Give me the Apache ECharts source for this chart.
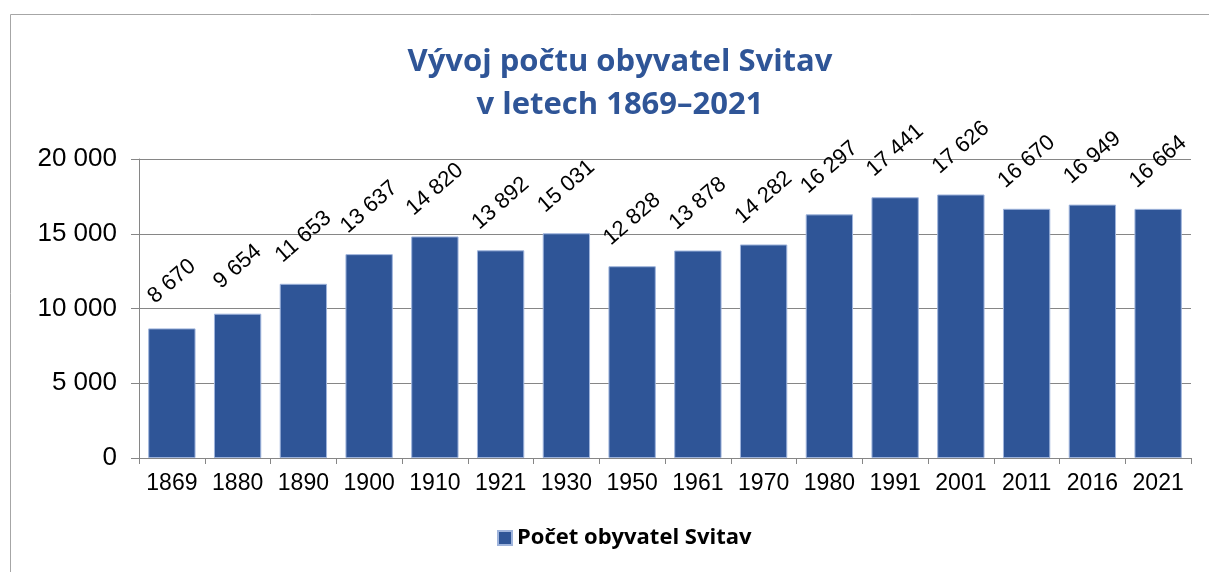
<!DOCTYPE html>
<html>
<head>
<meta charset="utf-8">
<script src="https://cdn.jsdelivr.net/npm/echarts@6/dist/echarts.min.js"></script>
<style>
  html, body { margin: 0; padding: 0; background: #fff; }
  #chart { width: 1209px; height: 572px; }
</style>
</head>
<body>
<div id="chart"></div>
<script>
// roky scitani
const years = ['1869', '1880', '1890', '1900', '1910', '1921', '1930', '1950',
  '1961', '1970', '1980', '1991', '2001', '2011', '2016', '2021'];
// pocet obyvatel
const population = [8670, 9654, 11653, 13637, 14820, 13892, 15031, 12828,
  13878, 14282, 16297, 17441, 17626, 16670, 16949, 16664];
const yTicks = [0, 5000, 10000, 15000, 20000];

const seriesName = 'Počet obyvatel Svitav';
const barColor = '#2f5597';

function fmt(v) {
  return String(v).replace(/\B(?=(\d{3})+(?!\d))/g, ' ');
}

const chart = echarts.init(document.getElementById('chart'), null, { renderer: 'canvas' });

chart.setOption({
  animation: false,
  backgroundColor: '#fff',
  graphic: [{
    type: 'rect',
    shape: { x: 10.5, y: 14.5, width: 1260, height: 640 },
    style: { fill: 'none', stroke: '#a6a6a6', lineWidth: 1 },
    silent: true
  }],
  title: {
    text: 'Vývoj počtu obyvatel Svitav\nv letech 1869–2021',
    left: 615,
    textAlign: 'center',
    top: 36,
    textStyle: {
      fontFamily: 'Open Sans',
      fontWeight: 'bold',
      fontSize: 31,
      lineHeight: 43,
      color: barColor
    }
  },
  legend: {
    data: [seriesName],
    bottom: 18,
    left: 492,
    itemWidth: 14,
    itemHeight: 14,
    itemGap: 8,
    icon: 'rect',
    textStyle: {
      fontFamily: 'Open Sans',
      fontWeight: 'bold',
      fontSize: 22,
      color: '#000'
    }
  },
  grid: {
    left: 139,
    right: 18,
    top: 159,
    bottom: 114
  },
  xAxis: {
    type: 'category',
    data: years,
    axisLine: { lineStyle: { color: '#868686' } },
    axisTick: { show: true, length: 6, lineStyle: { color: '#868686' } },
    axisLabel: {
      fontFamily: 'Liberation Sans',
      fontSize: 23,
      color: '#000',
      margin: 14,
      interval: 0
    }
  },
  yAxis: {
    type: 'value',
    min: yTicks[0],
    max: yTicks[yTicks.length - 1],
    interval: 5000,
    axisLine: { show: true, lineStyle: { color: '#868686' } },
    axisTick: { show: true, length: 8, lineStyle: { color: '#868686' } },
    splitLine: { lineStyle: { color: '#868686' } },
    axisLabel: {
      fontFamily: 'Liberation Sans',
      fontSize: 26,
      color: '#000',
      margin: 22,
      formatter: fmt
    }
  },
  series: [{
    name: seriesName,
    type: 'bar',
    data: population,
    barCategoryGap: '28%',
    itemStyle: {
      color: barColor,
      borderColor: '#9fb4dc',
      borderWidth: 1
    },
    label: {
      show: true,
      position: 'top',
      distance: 47,
      rotate: 41,
      align: 'center',
      verticalAlign: 'middle',
      fontFamily: 'Liberation Sans',
      fontSize: 22,
      color: '#000',
      formatter: p => fmt(p.value)
    }
  }]
});
</script>
</body>
</html>
